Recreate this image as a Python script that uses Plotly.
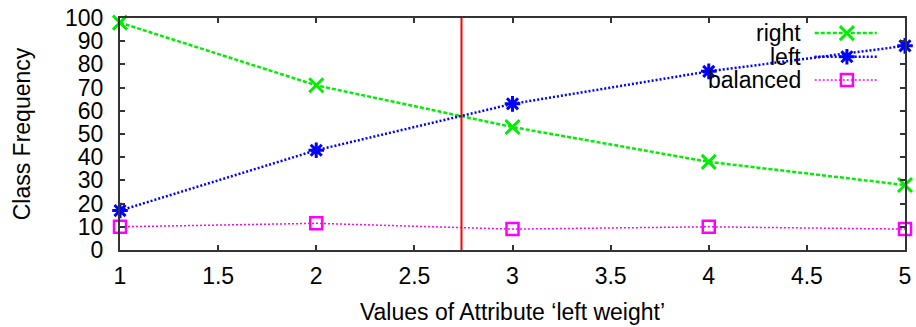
import plotly.graph_objects as go

x_vals = [1, 2, 3, 4, 5]
right_vals = [98, 71, 53, 38, 28]
left_vals = [17, 43, 63, 77, 88]
balanced_vals = [10, 11.5, 9, 10, 9]
split_x = 2.74
series_names = ["right", "left", "balanced"]
x_ticks = [1, 1.5, 2, 2.5, 3, 3.5, 4, 4.5, 5]
y_ticks = list(range(0, 101, 10))

FONT = "Liberation Sans, Arial, sans-serif"
FS = 23
styles = {
    "right": dict(color="#00ee00", dash="4px,2px", width=2.5, symbol="x-thin-open", size=14, mlw=3),
    "left": dict(color="#0000ff", dash="2px,2px", width=2.5, symbol="asterisk-open", size=13, mlw=3),
    "balanced": dict(color="#ff00ff", dash="2px,2px", width=1.5, symbol="square-open", size=12, mlw=2.5),
}
data = {"right": right_vals, "left": left_vals, "balanced": balanced_vals}

fig = go.Figure()
for name in series_names:
    s = styles[name]
    fig.add_trace(go.Scatter(
        x=x_vals, y=data[name], mode="lines+markers", name=name,
        line=dict(color=s["color"], dash=s["dash"], width=s["width"]),
        marker=dict(symbol=s["symbol"], size=s["size"], color=s["color"],
                    line=dict(color=s["color"], width=s["mlw"])),
        cliponaxis=False, showlegend=False,
    ))

# vertical split line
fig.add_trace(go.Scatter(x=[split_x, split_x], y=[0, 100], mode="lines",
                         line=dict(color="#ff0000", width=2), showlegend=False))

# manual gnuplot-style legend (text left of samples)
legend_rows = [0.935, 0.833, 0.733]
for name, yy in zip(series_names, legend_rows):
    s = styles[name]
    fig.add_trace(go.Scatter(
        x=[0.885, 0.964], y=[yy, yy], xaxis="x2", yaxis="y2", mode="lines",
        line=dict(color=s["color"], dash=s["dash"], width=s["width"]),
        showlegend=False, cliponaxis=False, hoverinfo="skip"))
    fig.add_trace(go.Scatter(
        x=[0.926], y=[yy], xaxis="x2", yaxis="y2", mode="markers",
        marker=dict(symbol=s["symbol"], size=s["size"], color=s["color"],
                    line=dict(color=s["color"], width=s["mlw"])),
        showlegend=False, cliponaxis=False, hoverinfo="skip"))
    fig.add_annotation(x=0.870, y=yy, xref="paper", yref="paper", text=name,
                       showarrow=False, xanchor="right", yanchor="middle",
                       font=dict(family=FONT, size=FS, color="black"))

axis_common = dict(showline=True, linecolor="#333333", linewidth=2, mirror="ticks",
                   ticks="inside", ticklen=5, tickcolor="#333333", tickwidth=1.5,
                   showgrid=False, zeroline=False, automargin=False,
                   tickfont=dict(family=FONT, size=FS, color="black"))
fig.update_layout(
    width=916, height=327,
    margin=dict(l=120, r=11, t=18, b=77),
    paper_bgcolor="white", plot_bgcolor="white",
    font=dict(family=FONT, size=FS, color="black"),
    xaxis=dict(range=[1, 5], tickvals=x_ticks, ticktext=[f"{v:g}" for v in x_ticks],
               title=dict(text="Values of Attribute \u2018left weight\u2019",
                          font=dict(family=FONT, size=FS), standoff=16),
               ticklabelstandoff=4, **axis_common),
    yaxis=dict(range=[0, 100], tickvals=y_ticks,
               title=dict(text="Class Frequency", font=dict(family=FONT, size=FS), standoff=28),
               ticklabelstandoff=10, **axis_common),
    xaxis2=dict(overlaying="x", range=[0, 1], visible=False),
    yaxis2=dict(overlaying="y", range=[0, 1], visible=False),
)
fig.write_html("out.html", config={"displayModeBar": False},
               post_script="document.body.style.margin='0px';")
